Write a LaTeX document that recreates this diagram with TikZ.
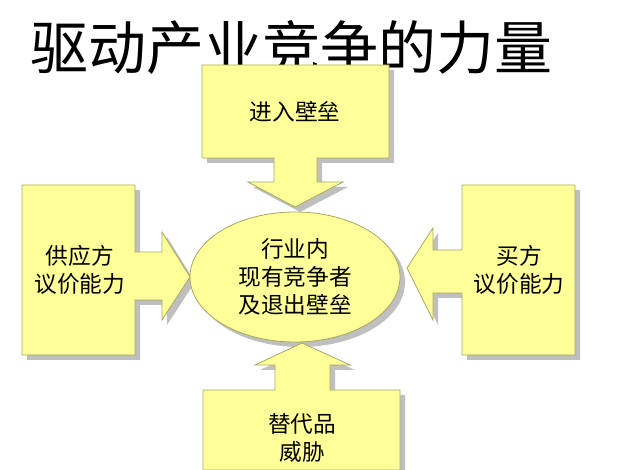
\documentclass[tikz,border=0pt]{standalone}
\usepackage{fontspec}
\newfontfamily\cjk{Noto Sans CJK SC}
\definecolor{fillY}{HTML}{FFFF99}
\definecolor{edgeY}{HTML}{A8A860}
\tikzset{shp/.style={fill=fillY,draw=edgeY,line width=0.6pt},
  shd/.style={fill=black!25},
  lbl/.style={font=\cjk\fontsize{17}{21}\selectfont,align=center,text=black}}
\begin{document}
\begin{tikzpicture}[x=0.75pt,y=-0.75pt]
\useasboundingbox (0,0) rectangle (622,470);
\fill[white] (0,0) rectangle (622,470);
\node[font=\cjk\fontsize{43.5}{46}\selectfont, anchor=west, inner sep=0pt] (title) at (30,48) {驱动产业竞争的力量};
% paths
\def\topP{(202,65) -- (389,65) -- (389,158) -- (317,158) -- (317,182) -- (343,182) -- (295,207) -- (248,182) -- (274,182) -- (274,158) -- (202,158) -- cycle}
\def\botP{(203,470) -- (203,390) -- (275,390) -- (275,365) -- (255,365) -- (302,343) -- (350,365) -- (330,365) -- (330,390) -- (400,390) -- (400,470) -- cycle}
\def\leftP{(22,185) -- (135,185) -- (135,252) -- (162,252) -- (162,232) -- (190,277) -- (162,320) -- (162,300) -- (135,300) -- (135,355) -- (22,355) -- cycle}
\def\rightP{(575,185) -- (462,185) -- (462,250) -- (433,250) -- (433,228) -- (407,268) -- (433,320) -- (433,293) -- (462,293) -- (462,355) -- (575,355) -- cycle}
\foreach \p in {\topP,\botP,\leftP,\rightP}{\fill[shd,shift={(5,5)}] \p;}
\fill[shd] (300,282) ellipse [x radius=105, y radius=65];
\foreach \p in {\topP,\botP,\leftP,\rightP}{\path[shp] \p;}
\path[shp] (295,277) ellipse [x radius=105, y radius=65];
\node[lbl] (entry) at (295,112) {进入壁垒};
\node[lbl] (core) at (295,277) {行业内\\现有竞争者\\及退出壁垒};
\node[lbl] (sup) at (80,270) {供应方\\议价能力};
\node[lbl] (buy) at (519,270) {买方\\议价能力};
\node[lbl] (sub) at (302,438) {替代品\\威胁};
\end{tikzpicture}
\end{document}
